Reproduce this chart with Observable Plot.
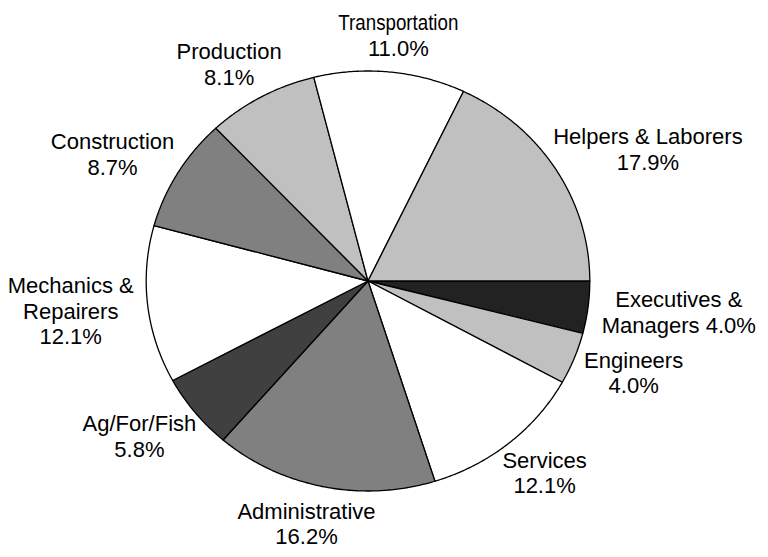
<!DOCTYPE html>
<html><head><meta charset="utf-8">
<script src="https://cdn.jsdelivr.net/npm/d3@7"></script>
<script src="https://cdn.jsdelivr.net/npm/@observablehq/plot@0.6"></script>
<style>html,body{margin:0;padding:0;background:#fff;}</style>
</head><body><div id="chart"></div>
<script>
// Data (clockwise from 3 o'clock)
const categories = ["Executives &\nManagers","Engineers","Services","Administrative","Ag/For/Fish","Mechanics &\nRepairers","Construction","Production","Transportation","Helpers & Laborers"];
const shares = [4.0, 4.0, 12.1, 16.2, 5.8, 12.1, 8.7, 8.1, 11.0, 17.9];
const sliceFills = ["#222222","#c0c0c0","#ffffff","#808080","#404040","#ffffff","#808080","#c0c0c0","#ffffff","#c0c0c0"];

const W = 768, H = 557, FS = 22, LH = 1.16;
const mL = 145.7, mR = 178.7, mT = 70.5, mB = 66.5;
const pxX = (W - mL - mR) / 2, pxY = (H - mT - mB) / 2;
const FONT = "'Liberation Sans', Arial, sans-serif";

const table = categories.map((c, i) => ({category: c, share: shares[i], fill: sliceFills[i]}));
const arcs = d3.pie().sort(null).value(d => d.share)
  .startAngle(Math.PI / 2).endAngle(Math.PI / 2 + 2 * Math.PI)(table);

// slice outlines as closed polygons in unit coordinates
const pts = [];
for (const a of arcs) {
  const k = a.data.category, f = a.data.fill;
  const n = Math.max(2, Math.ceil((a.endAngle - a.startAngle) / (Math.PI / 360)));
  pts.push({k, fill: f, x: 0, y: 0});
  for (let j = 0; j <= n; j++) {
    const t = a.startAngle + (a.endAngle - a.startAngle) * j / n;
    pts.push({k, fill: f, x: Math.sin(t), y: Math.cos(t)});
  }
  pts.push({k, fill: f, x: 0, y: 0});
}

// labels placed outside the slice mid-angle
const ctx = document.createElement("canvas").getContext("2d");
ctx.font = `${FS}px ${FONT}`;
const gap = 0.065;
const labels = arcs.map(a => {
  const name = a.data.category;
  const pct = a.data.share.toFixed(1) + "%";
  const text = name.startsWith("Executives") ? name + " " + pct : name + "\n" + pct;
  const lines = text.split("\n");
  const w = d3.max(lines, l => ctx.measureText(l).width);
  const h = (lines.length - 1) * FS * LH + FS;
  const m = (a.startAngle + a.endAngle) / 2;
  const cx = Math.sin(m), cy = Math.cos(m);
  return {
    text,
    x: cx * (1 + gap) + cx * (w / 2) / pxX,
    y: cy * (1 + gap) + cy * (h / 2) / pxY
  };
});

const chart = Plot.plot({
  width: W, height: H,
  marginLeft: mL, marginRight: mR, marginTop: mT, marginBottom: mB,
  x: {domain: [-1, 1], axis: null},
  y: {domain: [-1, 1], axis: null},
  color: {type: "identity"},
  style: {fontFamily: FONT, background: "white", overflow: "visible"},
  marks: [
    Plot.line(pts, {x: "x", y: "y", z: "k", fill: "fill", stroke: "black", strokeWidth: 1.3, strokeLinejoin: "round", curve: "linear"}),
    Plot.text(labels, {x: "x", y: "y", text: "text", fontSize: FS, lineHeight: LH, textAnchor: "middle", lineAnchor: "middle", fill: "black"})
  ]
});
document.getElementById("chart").appendChild(chart);
// the reference renders the word "Transportation" narrower
chart.querySelectorAll("tspan, text").forEach(el => {
  if (el.childElementCount === 0 && el.textContent === "Transportation") {
    el.setAttribute("textLength", 120);
    el.setAttribute("lengthAdjust", "spacingAndGlyphs");
  }
});
</script>
</body></html>
